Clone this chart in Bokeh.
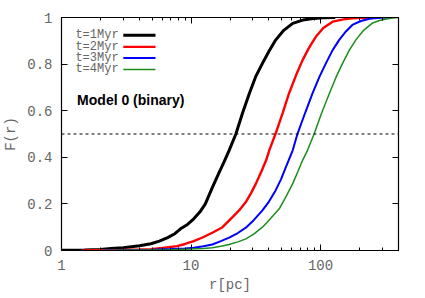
from bokeh.plotting import figure
from bokeh.models import (FixedTicker, LogAxis, LinearAxis, Span, Label,
                          CustomJSTickFormatter)
from bokeh.embed import file_html
from bokeh.resources import INLINE

# ---- data ----
r1 = [1.0, 1.5, 2.0, 2.4, 3.0, 4.0, 4.9, 5.7, 6.6, 7.5, 8.3, 9.4, 10.5, 11.7, 12.9,
      14.6, 16.5, 18.0, 19.7, 22.2, 25, 28.2, 31.5, 35.6, 40, 45, 52, 61, 73, 85, 104, 130]
F1 = [0.001, 0.002, 0.004, 0.009, 0.012, 0.02, 0.029, 0.04, 0.055, 0.072, 0.093, 0.112,
      0.136, 0.165, 0.2, 0.27, 0.335, 0.38, 0.43, 0.50, 0.59, 0.674, 0.745, 0.803, 0.855,
      0.903, 0.945, 0.975, 0.989, 0.995, 0.999, 1.0]

r2 = [1.44, 2, 3, 4, 4.9, 6, 7.8, 9, 10.5, 12.5, 14.6, 17.5, 20.9, 23.5, 26.5, 29, 31.7,
      35, 38, 40.2, 45, 51, 57.1, 65, 72.7, 82, 92, 105, 124, 150, 176, 210, 250]
F2 = [0.0, 0.001, 0.002, 0.004, 0.006, 0.011, 0.019, 0.028, 0.04, 0.058, 0.076, 0.1,
      0.143, 0.172, 0.208, 0.245, 0.287, 0.34, 0.387, 0.43, 0.502, 0.59, 0.674, 0.755,
      0.817, 0.873, 0.917, 0.955, 0.982, 0.992, 0.997, 0.999, 1.0]

r3 = [2.1, 3, 4, 5, 7, 9, 10.5, 12.5, 14.6, 17, 19.7, 23, 26.5, 30.5, 35.6, 40, 45, 49.5,
      54, 61, 66.5, 76, 86.7, 98, 110, 124, 139, 157, 176, 205, 239, 290, 350]
F3 = [0.0, 0.001, 0.002, 0.003, 0.006, 0.009, 0.012, 0.018, 0.026, 0.04, 0.055, 0.075,
      0.098, 0.13, 0.172, 0.21, 0.258, 0.305, 0.358, 0.43, 0.502, 0.59, 0.674, 0.745,
      0.803, 0.86, 0.903, 0.94, 0.968, 0.985, 0.995, 0.999, 1.0]

r4 = [2.0, 3, 5, 7, 10, 12.5, 14.6, 17, 19.7, 23, 26.5, 30.5, 35.6, 41, 48, 54, 61, 67,
      72.7, 79.3, 89.5, 102, 117, 132, 148, 167, 187, 215, 250, 285, 323, 360, 400]
F4 = [0.0, 0.001, 0.002, 0.003, 0.006, 0.009, 0.012, 0.018, 0.026, 0.037, 0.05, 0.07,
      0.1, 0.136, 0.179, 0.23, 0.287, 0.34, 0.387, 0.43, 0.502, 0.59, 0.674, 0.745,
      0.803, 0.86, 0.903, 0.945, 0.975, 0.987, 0.994, 0.998, 1.0]

labels = ["t=1Myr", "t=2Myr", "t=3Myr", "t=4Myr"]
colors = ["#000000", "#ff0000", "#0000ff", "#1c8c1c"]
widths = [3, 2.4, 2, 1.5]

x_major = [1, 10, 100]
x_minor = [2, 3, 4, 5, 6, 7, 8, 9, 20, 30, 40, 50, 60, 70, 80, 90, 200, 300, 400]
y_major = [0, 0.2, 0.4, 0.6, 0.8, 1.0]

GRAY = "#666666"
MONO = "Liberation Mono"

p = figure(width=425, height=298, x_axis_type="log",
           x_range=(1, 400), y_range=(0, 1),
           min_border_left=61, min_border_right=27, min_border_top=17,
           min_border_bottom=48, output_backend="svg", toolbar_location=None,
           x_axis_label="r[pc]", y_axis_label="F(r)")
p.grid.visible = False
p.outline_line_color = "black"
p.outline_line_width = 1.2
p.background_fill_color = "white"
p.border_fill_color = "white"

xfmt = CustomJSTickFormatter(code="return String(Math.round(tick));")
yfmt = CustomJSTickFormatter(code="var s = tick.toFixed(1); return s.replace(/\\.0$/, '');")

def style_axis(ax, labels_on=True):
    ax.axis_line_color = "black"
    ax.major_tick_in = 6
    ax.major_tick_out = 0
    ax.minor_tick_in = 3
    ax.minor_tick_out = 0
    ax.major_tick_line_color = "black"
    ax.minor_tick_line_color = "black"
    ax.major_label_text_font = MONO
    if labels_on:
        ax.major_label_text_font_size = "14px"
        ax.major_label_text_color = GRAY
    else:
        ax.major_label_text_font_size = "1px"
        ax.major_label_text_color = None
        ax.major_label_standoff = 0
    ax.axis_label_text_font = MONO
    ax.axis_label_text_font_size = "14px"
    ax.axis_label_text_font_style = "normal"
    ax.axis_label_text_color = GRAY

xa = p.xaxis[0]
xa.ticker = FixedTicker(ticks=x_major, minor_ticks=x_minor)
xa.formatter = xfmt
style_axis(xa)
xa.major_label_standoff = 9
xa.axis_label_standoff = 4

ya = p.yaxis[0]
ya.ticker = FixedTicker(ticks=y_major)
ya.formatter = yfmt
style_axis(ya)
ya.minor_tick_line_color = None
ya.major_label_standoff = 9
ya.axis_label_standoff = 5

top = LogAxis(ticker=FixedTicker(ticks=x_major, minor_ticks=x_minor), formatter=xfmt)
style_axis(top, labels_on=False)
p.add_layout(top, "above")

right = LinearAxis(ticker=FixedTicker(ticks=y_major), formatter=yfmt)
style_axis(right, labels_on=False)
right.minor_tick_line_color = None
p.add_layout(right, "right")

p.add_layout(Span(location=0.5, dimension="width", line_color="black",
                  line_width=1, line_dash="3 3"))

for r, F, c, w in zip([r1, r2, r3, r4], [F1, F2, F3, F4], colors, widths):
    p.line(r, F, line_color=c, line_width=w)

# legend (text left, sample right, like the reference)
leg_text_x = 1.28
leg_line_x0, leg_line_x1 = 3.0, 5.32
leg_y = [0.924, 0.874, 0.826, 0.777]
for lab, c, w, yy in zip(labels, colors, widths, leg_y):
    p.add_layout(Label(x=leg_text_x, y=yy, text=lab, text_font=MONO,
                       text_font_size="12px", text_color=GRAY,
                       text_baseline="middle", text_align="left"))
    p.segment(x0=[leg_line_x0], y0=[yy], x1=[leg_line_x1], y1=[yy],
              line_color=c, line_width=w)

p.add_layout(Label(x=1.32, y=0.645, text="Model 0 (binary)",
                   text_font="Liberation Sans", text_font_style="bold",
                   text_font_size="14px", text_color="black",
                   text_baseline="middle", text_align="left"))

open("out.html", "w").write(file_html(p, INLINE))
